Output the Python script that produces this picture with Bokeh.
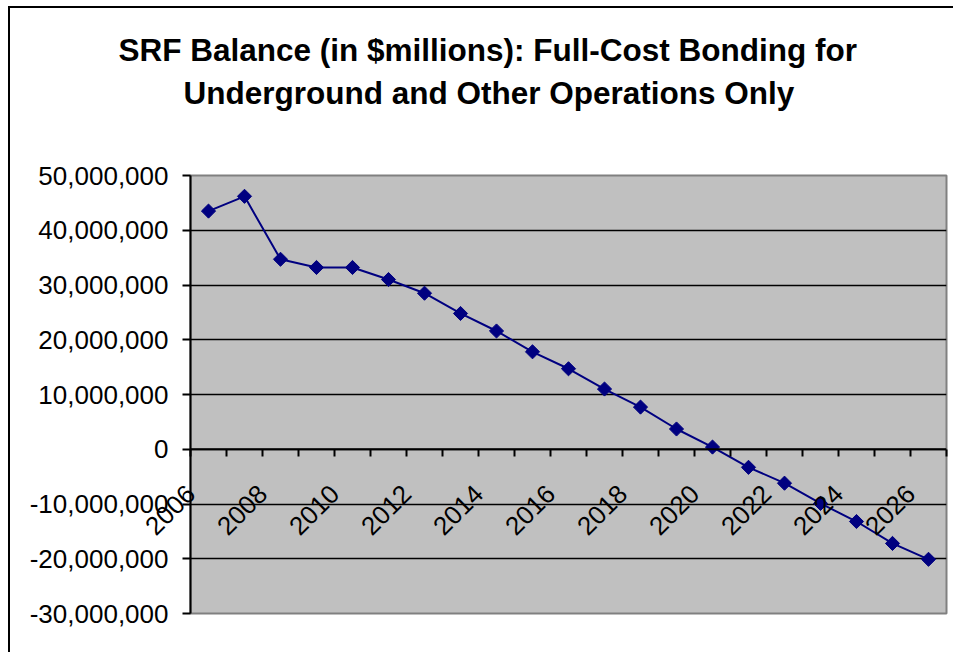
import math

from bokeh.embed import file_html
from bokeh.models import (ColumnDataSource, FixedTicker, Grid, InlineStyleSheet,
                          LinearAxis, NumeralTickFormatter, Range1d, Span, Title)
from bokeh.plotting import figure
from bokeh.resources import INLINE

# SRF balance by year, in dollars
years = [2006, 2007, 2008, 2009, 2010, 2011, 2012, 2013, 2014, 2015, 2016,
         2017, 2018, 2019, 2020, 2021, 2022, 2023, 2024, 2025, 2026]
balance = [43.5e6, 46.2e6, 34.7e6, 33.2e6, 33.2e6, 31.0e6, 28.5e6, 24.8e6,
           21.6e6, 17.8e6, 14.7e6, 11.0e6, 7.7e6, 3.7e6, 0.4e6, -3.3e6,
           -6.2e6, -9.9e6, -13.2e6, -17.2e6, -20.1e6]
y_ticks = [-30e6, -20e6, -10e6, 0, 10e6, 20e6, 30e6, 40e6, 50e6]
title_lines = ["SRF Balance (in $millions): Full-Cost Bonding for",
               "Underground and Other Operations Only"]

FONT = "Liberation Sans"
NAVY = "#000080"

idx = list(range(len(years)))
source = ColumnDataSource(data=dict(x=idx, year=years, balance=balance))

p = figure(width=953, height=652, output_backend="svg", toolbar_location=None,
           x_range=Range1d(-0.5, len(years) - 0.5),
           y_range=Range1d(y_ticks[0], y_ticks[-1]),
           x_axis_location=None, y_axis_location=None,
           min_border_left=190, min_border_right=7,
           min_border_top=175, min_border_bottom=39)

p.background_fill_color = "#C0C0C0"
p.border_fill_color = "white"
p.outline_line_color = "#808080"
p.outline_line_width = 2
p.grid.visible = False

# outer chart border (top and left edges)
p.stylesheets = [InlineStyleSheet(css=(
    ":host::after { content: ''; position: absolute; left: 8px; top: 6px;"
    " right: 0; bottom: 0; border-top: 2px solid #000;"
    " border-left: 2px solid #000; pointer-events: none; }"))]

# horizontal gridlines and the zero line
p.add_layout(Grid(dimension=1, ticker=FixedTicker(ticks=y_ticks[1:-1]),
                  grid_line_color="black", grid_line_width=1.5))
p.add_layout(Span(location=0, dimension="width", line_color="black", line_width=2))

# value axis
yaxis = LinearAxis(ticker=FixedTicker(ticks=y_ticks),
                   formatter=NumeralTickFormatter(format="0,0"),
                   axis_line_color="black", axis_line_width=2,
                   major_tick_line_color="black", major_tick_line_width=2,
                   major_tick_out=8, major_tick_in=0,
                   minor_tick_line_color=None,
                   major_label_standoff=14,
                   major_label_text_font=FONT,
                   major_label_text_font_size="26px",
                   major_label_text_color="black")
p.add_layout(yaxis, "left")

# category axis: labels every second year, ticks on every category boundary,
# both lifted from the bottom edge up to the zero line
lab_ticks = [i - 0.5 for i in idx[::2]]
odd_bounds = [i + 0.5 for i in idx[::2]]
lift_in, lift_out = 164, -157
xaxis = LinearAxis(ticker=FixedTicker(ticks=lab_ticks, minor_ticks=odd_bounds),
                   major_label_overrides={t: str(years[i]) for t, i in zip(lab_ticks, idx[::2])},
                   axis_line_color=None,
                   major_tick_line_color="black", major_tick_line_width=2,
                   minor_tick_line_color="black", minor_tick_line_width=2,
                   major_tick_in=lift_in, major_tick_out=lift_out,
                   minor_tick_in=lift_in, minor_tick_out=lift_out,
                   major_label_standoff=33,
                   major_label_orientation=math.pi / 4,
                   major_label_text_font=FONT,
                   major_label_text_font_size="26px",
                   major_label_text_color="black")
p.add_layout(xaxis, "below")

p.line("x", "balance", source=source, line_color=NAVY, line_width=2)
p.scatter("x", "balance", source=source, marker="square", angle=math.pi / 4,
          size=10, fill_color=NAVY, line_color=NAVY)

# two-line title, lower line added first so it sits next to the plot
p.add_layout(Title(text=title_lines[1], align="left", offset=-7, standoff=130,
                   text_font=FONT, text_font_size="31.5px",
                   text_font_style="bold", text_color="black"), "above")
p.add_layout(Title(text=title_lines[0], align="left", offset=-72, standoff=-120,
                   text_font=FONT, text_font_size="31.5px",
                   text_font_style="bold", text_color="black"), "above")

open("out.html", "w").write(file_html(p, INLINE))
